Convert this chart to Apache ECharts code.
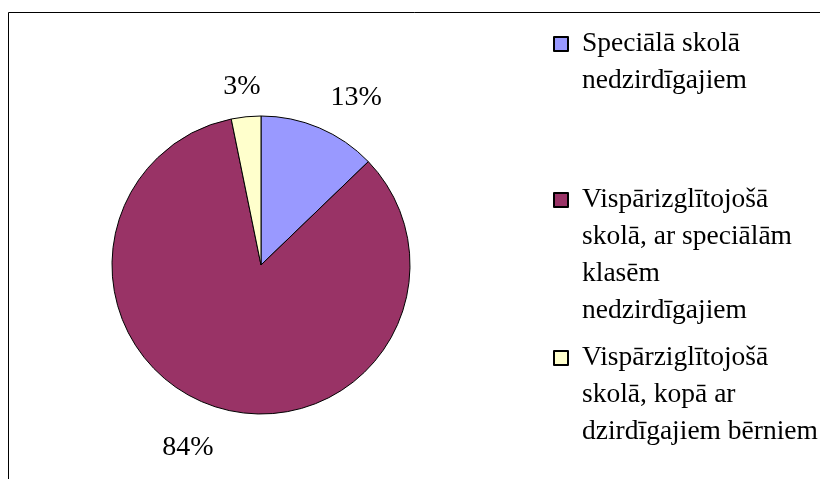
<!DOCTYPE html>
<html>
<head>
<meta charset="utf-8">
<script src="https://cdn.jsdelivr.net/npm/echarts@6/dist/echarts.min.js"></script>
<style>
  html, body { margin: 0; padding: 0; background: #fff; }
  #chart { width: 820px; height: 479px; }
</style>
</head>
<body>
<div id="chart"></div>
<script>
const categories = [
  "Speciālā skolā nedzirdīgajiem",
  "Vispārizglītojošā skolā, ar speciālām klasēm nedzirdīgajiem",
  "Vispārziglītojošā skolā, kopā ar dzirdīgajiem bērniem"
];
// legend lines as they wrap in the picture
const legendLines = [
  ["Speciālā skolā", "nedzirdīgajiem"],
  ["Vispārizglītojošā", "skolā, ar speciālām", "klasēm", "nedzirdīgajiem"],
  ["Vispārziglītojošā", "skolā, kopā ar", "dzirdīgajiem bērniem"]
];
const values = [12.8, 84.0, 3.2];
const colors = ["#9999FF", "#993366", "#FFFFCC"];

const font = "Liberation Serif";
const lineH = 37;
const box = 14;
const firstLineY = [43, 199, 357];
// small nudges so the percent labels sit where the original put them
const labelShift = [[-7, 1], [12, 8], [23, 4]];

const chart = echarts.init(document.getElementById("chart"));

const legends = categories.map((name, i) => {
  const n = legendLines[i].length;
  const h = n * lineH;
  const top = lineH / 2 - box / 2;
  // square sits on the first text line; the trailing moves stretch the icon box to the text height
  const icon = `path://M0,0M0,${top}h${box}v${box}h-${box}zM${box},${h}`;
  return {
    data: [{ name, icon }],
    orient: "vertical",
    left: 553,
    top: firstLineY[i] - lineH / 2,
    padding: 0,
    itemWidth: box,
    itemHeight: h,
    selectedMode: false,
    formatter: () => legendLines[i].join("\n"),
    textStyle: {
      fontFamily: font,
      fontSize: 27.5,
      color: "#000",
      lineHeight: lineH,
      padding: [0, 0, 0, 9]
    }
  };
});

chart.setOption({
  animation: false,
  backgroundColor: "#fff",
  graphic: [{
    type: "rect",
    shape: { x: 8.5, y: 12.5, width: 900, height: 600 },
    style: { fill: "none", stroke: "#000", lineWidth: 1 },
    silent: true
  }],
  legend: legends,
  series: [{
    type: "pie",
    center: [261, 265],
    radius: 149,
    startAngle: 90,
    clockwise: true,
    avoidLabelOverlap: false,
    itemStyle: { borderColor: "#000", borderWidth: 1 },
    label: {
      position: "outside",
      fontFamily: font,
      fontSize: 28,
      color: "#000",
      formatter: p => Math.round(p.percent) + "%"
    },
    labelLine: { show: false, length: 34, length2: 0 },
    labelLayout: p => ({ dx: labelShift[p.dataIndex][0], dy: labelShift[p.dataIndex][1] }),
    emphasis: { disabled: true },
    data: categories.map((name, i) => ({
      name,
      value: values[i],
      itemStyle: { color: colors[i] }
    }))
  }]
});
</script>
</body>
</html>
